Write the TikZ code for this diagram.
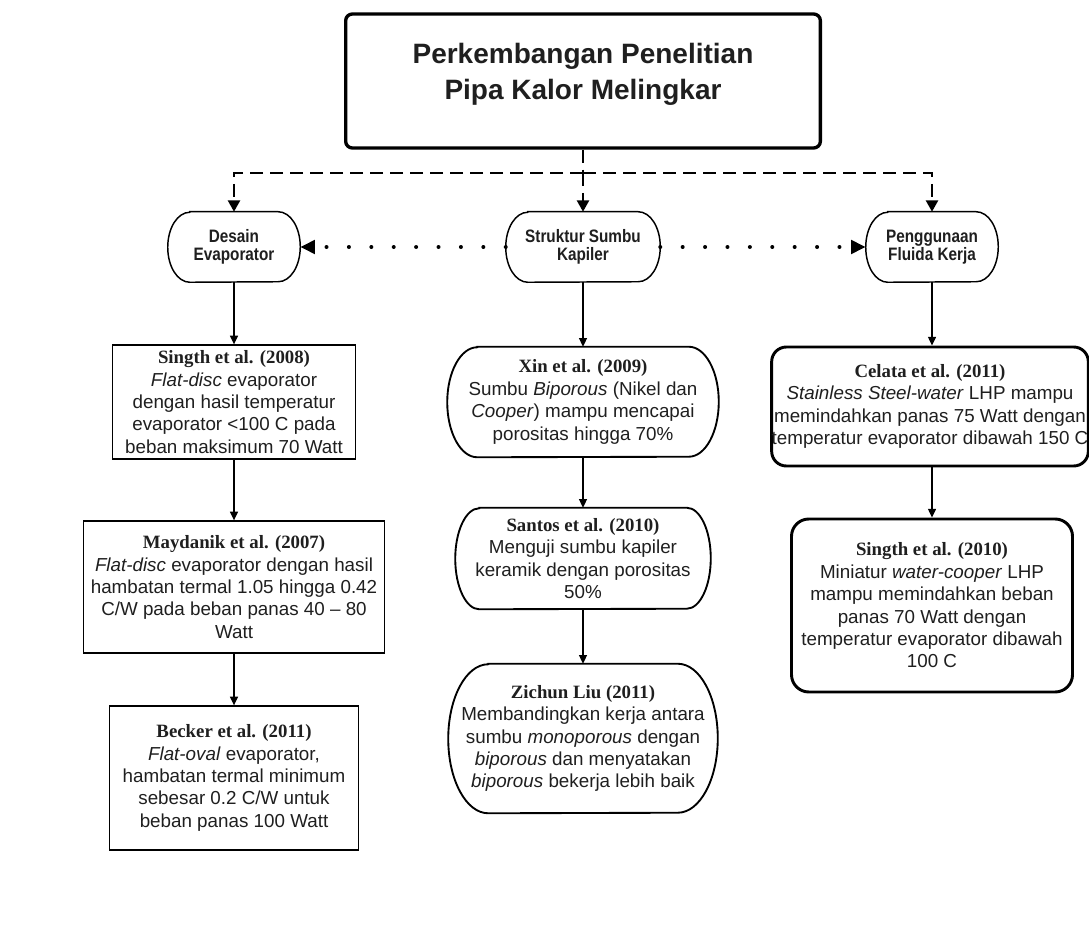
\documentclass[tikz,border=0pt]{standalone}
\usepackage{fontspec}
\setmainfont{Liberation Sans}
\newfontfamily\serifb{Liberation Serif}
\newfontfamily\narrowb[FakeStretch=0.85]{Liberation Sans}
\usetikzlibrary{arrows.meta,calc}
\newcommand\hd[1]{{\serifb\bfseries #1}}
\newcommand\capshape[4]{%
  \draw[#4] ($(#1.north west)+(#2,0)$) -- ($(#1.north east)+(-#2,0)$)
    arc[start angle=90,end angle=-90,x radius=#2,y radius=#3]
    -- ($(#1.south west)+(#2,0)$)
    arc[start angle=270,end angle=90,x radius=#2,y radius=#3] -- cycle;}
\begin{document}
\begin{tikzpicture}[x=0.75pt,y=0.75pt,
  every node/.style={inner sep=0pt, text=black!88},
  body/.style={align=center, font=\fontsize{14.1}{16.8}\selectfont},
  ovaltext/.style={align=center, font=\narrowb\bfseries\fontsize{13.5}{13.8}\selectfont, minimum height=52.5pt},
  sqbox/.style={body, draw, line width=1pt},
  rbox/.style={body, draw, line width=2.2pt, rounded corners=11pt},
  thinline/.style={line width=1.1pt},
  capline/.style={line width=1.4pt},
  arr/.style={line width=0.9pt, -{Triangle[width=6pt,length=6.5pt]}},
  dashline/.style={line width=1.7pt, dash pattern=on 10pt off 5pt},
  dasharr/.style={dashline, -{Triangle[width=9pt,length=8.5pt]}},
  dotarr/.style={line width=3pt, line cap=round, dash pattern=on 0pt off 16.8pt, -{Triangle[width=10pt,length=11pt]}},
]
\useasboundingbox[fill=white] (0,0) rectangle (1089,-938);

% title
\node[draw, line width=2.5pt, rounded corners=5pt, minimum width=356pt, minimum height=100.5pt,
  align=center, font=\bfseries\fontsize{21}{27}\selectfont] (title) at (583,-81)
  {Perkembangan Penelitian\\Pipa Kalor Melingkar\rule[-14pt]{0pt}{0pt}};

% category nodes
\node[ovaltext, minimum width=99pt] (desain) at (234,-247) {Desain\\Evaporator};
\node[ovaltext, minimum width=115.5pt] (struk) at (583,-247) {Struktur Sumbu\\Kapiler};
\node[ovaltext, minimum width=99pt] (peng) at (932,-247) {Penggunaan\\Fluida Kerja};
\capshape{desain}{22}{35}{thinline}
\capshape{struk}{22}{35}{thinline}
\capshape{peng}{22}{35}{thinline}

\coordinate (hub) at (583,-173);
\draw[dashline] (title.south) -- (hub);
\draw[dasharr] (hub) -| (desain.north);
\draw[dasharr] (hub) -- (struk.north);
\draw[dasharr] (hub) -| (peng.north);

\draw[dotarr] (struk.west) -- (desain.east);
\draw[dotarr] (struk.east) -- (peng.west);

% left column
\node[sqbox, minimum width=182.25pt, minimum height=85.5pt] (s08) at (234,-402)
  {\hd{Singth et al. (2008)}\\\textit{Flat-disc} evaporator\\dengan hasil temperatur\\evaporator <100 C pada\\beban maksimum 70 Watt};
\node[sqbox, minimum width=225.75pt, minimum height=99pt] (mayd) at (234,-587)
  {\hd{Maydanik et al. (2007)}\\\textit{Flat-disc} evaporator dengan hasil\\hambatan termal 1.05 hingga 0.42\\C/W pada beban panas 40 -- 80\\Watt};
\node[sqbox, minimum width=186.75pt, minimum height=108pt] (becker) at (234,-778)
  {\hd{Becker et al. (2011)}\\\textit{Flat-oval} evaporator,\\hambatan termal minimum\\sebesar 0.2 C/W untuk\\beban panas 100 Watt};

% center column
\node[body, minimum width=203.25pt, minimum height=82.5pt] (xin) at (583,-402)
  {\hd{Xin et al. (2009)}\\Sumbu \textit{Biporous} (Nikel dan\\\textit{Cooper}) mampu mencapai\\porositas hingga 70\%};
\node[body, minimum width=191.25pt, minimum height=75.75pt] (santos) at (583,-558.5)
  {\hd{Santos et al. (2010)}\\Menguji sumbu kapiler\\keramik dengan porositas\\50\%};
\node[body, minimum width=201.75pt, minimum height=111.75pt] (zichun) at (583,-738.5)
  {\hd{Zichun Liu (2011)}\\Membandingkan kerja antara\\sumbu \textit{monoporous} dengan\\\textit{biporous} dan menyatakan\\\textit{biporous} bekerja lebih baik};
\capshape{xin}{30}{55}{capline}
\capshape{santos}{24}{50.5}{capline}
\capshape{zichun}{40}{74.5}{capline}

% right column
\node[rbox, minimum width=237pt, minimum height=89.25pt] (celata) at (930,-406.5)
  {\hd{Celata et al. (2011)}\\\textit{Stainless Steel-water} LHP mampu\\memindahkan panas 75 Watt dengan\\temperatur evaporator dibawah 150 C};
\node[rbox, rounded corners=13pt, minimum width=210.75pt, minimum height=129.75pt] (s10) at (932,-605.5)
  {\hd{Singth et al. (2010)}\\Miniatur \textit{water-cooper} LHP\\mampu memindahkan beban\\panas 70 Watt dengan\\temperatur evaporator dibawah\\100 C};

% connectors
\draw[arr] (desain.south) -- (s08.north);
\draw[arr] (s08.south) -- (mayd.north);
\draw[arr] (mayd.south) -- (becker.north);
\draw[arr] (struk.south) -- (xin.north);
\draw[arr] (xin.south) -- (santos.north);
\draw[arr] (santos.south) -- (zichun.north);
\draw[arr] (peng.south) -- (peng.south |- celata.north);
\draw[arr] (s10.north |- celata.south) -- (s10.north);
\end{tikzpicture}
\end{document}
